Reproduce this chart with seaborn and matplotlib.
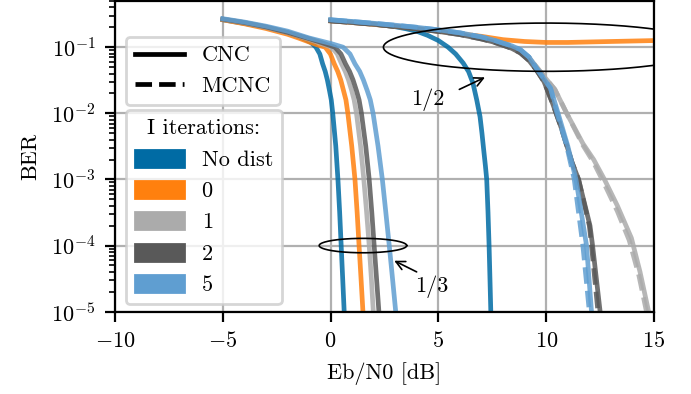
import numpy as np
import matplotlib
matplotlib.use("Agg")
import matplotlib.pyplot as plt
from matplotlib.lines import Line2D
from matplotlib.patches import Patch
import seaborn as sns

# ===== STYLE =====
plt.rcParams["font.family"] = "serif"
plt.rcParams["font.serif"] = ["cmr10"]
plt.rcParams["mathtext.fontset"] = "cm"
plt.rcParams["axes.formatter.use_mathtext"] = True
plt.rcParams["font.size"] = 8

# ===== LEGEND / COLOURS =====
iter_labels = ["No dist", "0", "1", "2", "5"]
iter_colors = ["#006BA4", "#FF800E", "#ABABAB", "#595959", "#5F9ED1"]
method_labels = ["CNC", "MCNC"]

# ===== RATE 1/3 (CNC) =====
r13_x_nodist = [-5, -4, -3, -2, -1.5, -1.2, -0.9, -0.68, -0.5, -0.37, -0.25, -0.15, -0.05,
                0.03, 0.1, 0.24, 0.34, 0.42, 0.49, 0.56, 0.63]
r13_ber_nodist = [0.26, 0.229, 0.2, 0.166, 0.145, 0.132, 0.117, 0.1, 0.079, 0.056, 0.043, 0.032,
                  0.022, 0.016, 0.01, 3.2e-3, 1e-3, 3.2e-4, 1e-4, 3.2e-5, 1e-5]

r13_x_it0 = [-5, -4, -3, -2, -1.5, -1, -0.6, -0.25, -0.01, 0.17, 0.33, 0.47, 0.6, 0.71, 0.8,
             0.98, 1.13, 1.23, 1.32, 1.41, 1.5]
r13_ber_it0 = [0.26, 0.226, 0.192, 0.157, 0.138, 0.12, 0.108, 0.1, 0.079, 0.056, 0.043, 0.032,
               0.022, 0.016, 0.01, 3.2e-3, 1e-3, 3.2e-4, 1e-4, 3.2e-5, 1e-5]

r13_x_it1 = [-5, -4, -3, -2, -1, -0.5, 0.05, 0.31, 0.51, 0.68, 0.83, 0.98, 1.09, 1.2,
             1.39, 1.54, 1.67, 1.79, 1.89, 1.98]
r13_ber_it1 = [0.265, 0.234, 0.2, 0.166, 0.132, 0.116, 0.1, 0.079, 0.056, 0.043, 0.032, 0.022,
               0.016, 0.01, 3.2e-3, 1e-3, 3.2e-4, 1e-4, 3.2e-5, 1e-5]

r13_x_it2 = [-5, -4, -3, -2, -1, -0.4, 0.2, 0.48, 0.69, 0.88, 1.04, 1.2, 1.32, 1.43,
             1.63, 1.79, 1.91, 2.02, 2.13, 2.24]
r13_ber_it2 = [0.266, 0.236, 0.203, 0.168, 0.135, 0.117, 0.1, 0.079, 0.056, 0.043, 0.032, 0.022,
               0.016, 0.01, 3.2e-3, 1e-3, 3.2e-4, 1e-4, 3.2e-5, 1e-5]

r13_x_it5 = [-5, -4, -3, -2, -1, 0, 0.58, 0.9, 1.13, 1.35, 1.52, 1.7, 1.84, 1.97,
             2.2, 2.4, 2.56, 2.72, 2.87, 3.02]
r13_ber_it5 = [0.27, 0.24, 0.208, 0.175, 0.138, 0.114, 0.1, 0.079, 0.056, 0.043, 0.032, 0.022,
               0.016, 0.01, 3.2e-3, 1e-3, 3.2e-4, 1e-4, 3.2e-5, 1e-5]

# ===== RATE 1/2 (CNC) =====
r12_x_nodist = [0, 1, 2, 3, 3.5, 4, 4.5, 5, 5.45, 5.8, 6.15, 6.4, 6.6, 6.78, 6.93, 7.02,
                7.1, 7.18, 7.24, 7.3, 7.35, 7.39, 7.43]
r12_ber_nodist = [0.257, 0.24, 0.224, 0.204, 0.19, 0.174, 0.151, 0.126, 0.1, 0.079, 0.0575,
                  0.0427, 0.0288, 0.0158, 8.9e-3, 5e-3, 2.8e-3, 1.6e-3, 1e-3, 3.2e-4, 1e-4,
                  3.2e-5, 1e-5]

r12_x_it0 = [0, 1, 2, 3, 4, 5, 6, 7, 8, 9, 10, 11, 12, 13, 14, 15]
r12_ber_it0 = [0.25, 0.236, 0.221, 0.206, 0.191, 0.175, 0.16, 0.146, 0.13, 0.122, 0.118,
               0.118, 0.12, 0.122, 0.124, 0.126]

r12_x_it1 = [0, 1, 2, 3, 4, 5, 6, 7, 7.5, 8.0, 8.4, 8.8, 9.2, 9.6, 10.0, 10.4, 10.95, 11.7,
             12.2, 12.7, 13.3, 13.95, 14.35, 14.75]
r12_ber_it1 = [0.253, 0.239, 0.225, 0.21, 0.195, 0.178, 0.16, 0.138, 0.126, 0.112, 0.1, 0.088,
               0.07, 0.048, 0.033, 0.023, 0.01, 3.5e-3, 2e-3, 1e-3, 4e-4, 1.3e-4, 4e-5, 1e-5]

r12_x_it2 = [0, 1, 2, 3, 4, 5, 6, 7, 7.5, 8.0, 8.4, 8.8, 9.2, 9.55, 9.9, 10.3, 10.7, 11.2,
             11.5, 12.03, 12.15, 12.5]
r12_ber_it2 = [0.25, 0.236, 0.222, 0.206, 0.19, 0.173, 0.155, 0.133, 0.121, 0.107, 0.096, 0.082,
               0.063, 0.045, 0.03, 0.014, 6e-3, 1.8e-3, 1e-3, 2e-4, 1e-4, 1e-5]

r12_x_it5 = [0, 1, 2, 3, 4, 5, 6, 7, 7.5, 8, 8.4, 8.8, 9.2, 9.55, 9.9, 10.2, 10.55, 11.0,
             11.38, 11.87, 12.1]
r12_ber_it5 = [0.26, 0.245, 0.23, 0.215, 0.2, 0.183, 0.165, 0.143, 0.13, 0.115, 0.105, 0.092,
               0.071, 0.048, 0.033, 0.024, 0.01, 3.2e-3, 1e-3, 1e-4, 1e-5]

# ===== RATE 1/2 (MCNC) =====
r12m_x_it1 = [0, 1, 2, 3, 4, 5, 6, 7, 7.5, 8.0, 8.4, 8.8, 9.2, 9.6, 10.0, 10.4, 10.95, 11.7,
              12.2, 12.7, 13.3, 13.85, 14.3, 14.65]
r12m_ber_it1 = [0.253, 0.239, 0.225, 0.21, 0.195, 0.178, 0.16, 0.138, 0.126, 0.112, 0.1, 0.088,
                0.07, 0.048, 0.033, 0.023, 0.01, 3.3e-3, 1.8e-3, 8.5e-4, 3.3e-4, 1.2e-4,
                3.5e-5, 1e-5]

r12m_x_it2 = [0, 1, 2, 3, 4, 5, 6, 7, 7.5, 8.0, 8.4, 8.8, 9.2, 9.55, 9.9, 10.3, 10.7, 11.2,
              11.5, 12.0, 12.1, 12.4]
r12m_ber_it2 = [0.25, 0.236, 0.222, 0.206, 0.19, 0.173, 0.155, 0.133, 0.121, 0.107, 0.096,
                0.082, 0.063, 0.045, 0.03, 0.014, 6e-3, 1.8e-3, 1e-3, 2e-4, 1e-4, 1e-5]

r12m_x_it5 = [0, 1, 2, 3, 4, 5, 6, 7, 7.5, 8, 8.4, 8.8, 9.2, 9.55, 9.9, 10.2, 10.5, 10.95,
              11.3, 11.7, 12.0]
r12m_ber_it5 = [0.26, 0.245, 0.23, 0.215, 0.2, 0.183, 0.165, 0.143, 0.13, 0.115, 0.105, 0.092,
                0.071, 0.048, 0.033, 0.024, 0.01, 3.2e-3, 1e-3, 1e-4, 1e-5]

curves = [
    (r13_x_nodist, r13_ber_nodist, 0, "CNC"),
    (r13_x_it0, r13_ber_it0, 1, "CNC"),
    (r13_x_it1, r13_ber_it1, 2, "CNC"),
    (r13_x_it2, r13_ber_it2, 3, "CNC"),
    (r13_x_it5, r13_ber_it5, 4, "CNC"),
    (r12_x_nodist, r12_ber_nodist, 0, "CNC"),
    (r12_x_it0, r12_ber_it0, 1, "CNC"),
    (r12_x_it1, r12_ber_it1, 2, "CNC"),
    (r12m_x_it1, r12m_ber_it1, 2, "MCNC"),
    (r12_x_it2, r12_ber_it2, 3, "CNC"),
    (r12m_x_it2, r12m_ber_it2, 3, "MCNC"),
    (r12_x_it5, r12_ber_it5, 4, "CNC"),
    (r12m_x_it5, r12m_ber_it5, 4, "MCNC"),
]

dash = (0, (3.5, 1.5))

# ===== FIGURE =====
fig = plt.figure(figsize=(3.455, 1.97), dpi=200)
ax = fig.add_axes([0.1664, 0.2089, 0.7801, 0.7886])

for xs, ys, ci, method in curves:
    ls = "-" if method == "CNC" else dash
    sns.lineplot(x=xs, y=ys, color=iter_colors[ci], lw=1.7, alpha=0.85,
                 linestyle=ls, ax=ax)

ax.set_yscale("log")
ax.set_xlim(-10, 15)
ax.set_ylim(1e-5, 0.5)
ax.set_xticks([-10, -5, 0, 5, 10, 15])
ax.grid(True, which="major", color="#b0b0b0", lw=0.8)
ax.set_xlabel("Eb/N0 [dB]")
ax.set_ylabel("BER")

# ===== ANNOTATIONS =====
t = np.linspace(0, 2 * np.pi, 400)
ax.plot(10 + 7.55 * np.cos(t), 10 ** (-1 + 0.365 * np.sin(t)), color="k", lw=0.6)
ax.plot(1.5 + 2.03 * np.cos(t), 10 ** (-4 + 0.109 * np.sin(t)), color="k", lw=0.6)

arrow = dict(arrowstyle="->", lw=0.6, color="k", shrinkA=0, shrinkB=0)
ax.text(4.5, 0.016, "1/2", ha="center", va="center")
ax.annotate("", xy=(7.16, 0.035), xytext=(5.97, 0.023), arrowprops=arrow)
ax.text(4.7, 2.4e-5, "1/3", ha="center", va="center")
ax.annotate("", xy=(2.95, 5.9e-5), xytext=(3.99, 4e-5), arrowprops=arrow)

# ===== LEGENDS =====
h1 = [Line2D([], [], color="k", lw=1.7),
      Line2D([], [], color="k", lw=1.7, linestyle=dash)]
leg1 = ax.legend(h1, method_labels, loc="upper left", bbox_to_anchor=(0.0204, 0.884),
                 borderaxespad=0, handlelength=2.2)
ax.add_artist(leg1)

h2 = [Patch(facecolor=c, edgecolor=c) for c in iter_colors]
ax.legend(h2, iter_labels, title="I iterations:", loc="upper left",
          bbox_to_anchor=(0.0204, 0.649), borderaxespad=0,
          handlelength=2.2, handleheight=0.8)

plt.savefig("out.png", dpi=200)
